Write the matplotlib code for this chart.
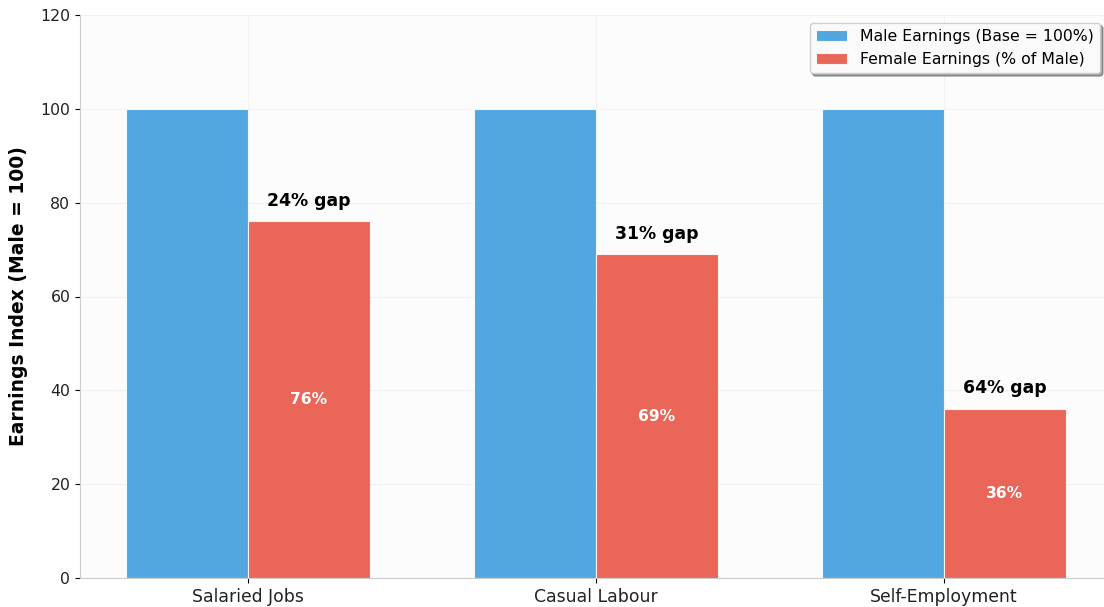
import numpy as np
import matplotlib.pyplot as plt

categories = ['Salaried Jobs', 'Casual Labour', 'Self-Employment']
male_index = [100, 100, 100]
female_index = [76, 69, 36]
gap_labels = ['24% gap', '31% gap', '64% gap']

fig = plt.figure(figsize=(11.04, 6.07), dpi=100)
# axes placed to match reference pixel layout
ax = fig.add_axes([80 / 1104, 29 / 607, 1028 / 1104, 563 / 607])
ax.set_facecolor('#fcfcfc')

x = np.arange(len(categories))
width = 0.35
ax.bar(x - width / 2, male_index, width, color='#3498db', alpha=0.85,
       edgecolor='white', linewidth=0.8, label='Male Earnings (Base = 100%)')
bars = ax.bar(x + width / 2, female_index, width, color='#e74c3c', alpha=0.85,
              edgecolor='white', linewidth=0.8, label='Female Earnings (% of Male)')

for b, val, gap in zip(bars, female_index, gap_labels):
    cx = b.get_x() + b.get_width() / 2
    ax.text(cx, val + 2.5, gap, ha='center', va='bottom',
            fontsize=12.4, fontweight='bold')
    ax.text(cx, val / 2, '%d%%' % val, ha='center', va='center',
            fontsize=11.2, fontweight='bold', color='white')

ax.set_xticks(x)
ax.set_xticklabels(categories, fontsize=12.4, color='#222222')
ax.set_ylim(0, 120)
ax.set_xlim(-0.4828, 2.471)
ax.set_ylabel('Earnings Index (Male = 100)', fontsize=13.5, fontweight='bold',
              labelpad=9)
ax.tick_params(axis='y', labelsize=11.3, labelcolor='#222222')
ax.grid(True, alpha=0.3, color='#dddddd')
ax.set_axisbelow(True)
for s in ['top', 'right']:
    ax.spines[s].set_visible(False)
for s in ['left', 'bottom']:
    ax.spines[s].set_color('#cccccc')

ax.legend(loc='upper right', fontsize=11.3, shadow=True, framealpha=0.95)

fig.savefig('out.png', dpi=100)
